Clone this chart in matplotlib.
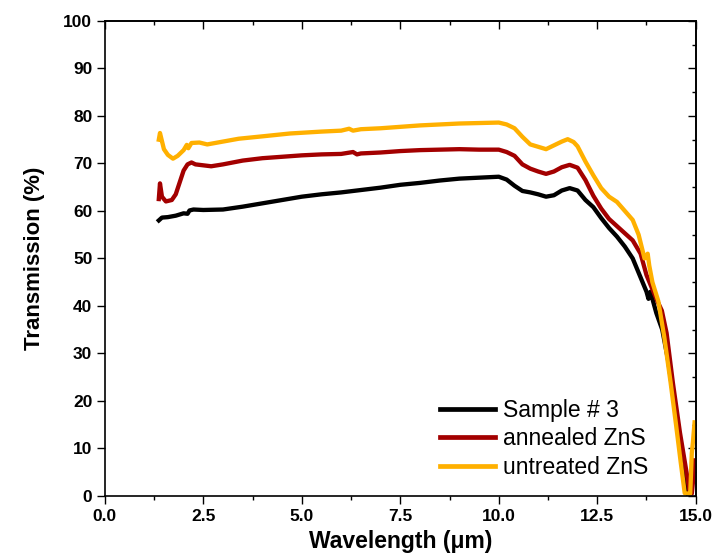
import matplotlib
matplotlib.use("Agg")
import matplotlib.pyplot as plt
from matplotlib.ticker import MultipleLocator

plt.rcParams['font.family'] = ['Liberation Sans', 'DejaVu Sans']

# ---- data ----
x_sample = [1.37, 1.45, 1.6, 1.8, 2.0, 2.1, 2.15, 2.25, 2.5, 3.0, 3.5, 4.0, 4.5, 5.0, 5.5, 6.0,
            6.5, 7.0, 7.5, 8.0, 8.5, 9.0, 9.5, 10.0, 10.2, 10.4, 10.6, 10.8, 11.0, 11.2, 11.4,
            11.6, 11.8, 12.0, 12.2, 12.4, 12.6, 12.8, 13.0, 13.2, 13.4, 13.6, 13.75, 13.8,
            13.85, 13.9, 14.0, 14.15, 14.3, 14.5, 14.7, 14.8]
y_sample = [58.0, 58.6, 58.7, 59.0, 59.5, 59.4, 60.1, 60.3, 60.2, 60.3, 60.9, 61.6, 62.3, 63.0,
            63.5, 63.9, 64.4, 64.9, 65.5, 65.9, 66.4, 66.8, 67.0, 67.2, 66.6, 65.3, 64.2, 63.9,
            63.5, 63.0, 63.3, 64.3, 64.8, 64.3, 62.3, 60.8, 58.5, 56.4, 54.6, 52.5, 50.0, 46.0,
            43.0, 41.5, 43.0, 41.5, 38.5, 35.0, 28.5, 17.0, 4.0, 0.5]

x_annealed = [1.37, 1.4, 1.45, 1.55, 1.7, 1.8, 1.9, 2.0, 2.1, 2.2, 2.3, 2.5, 2.7, 3.0, 3.5, 4.0,
              4.5, 5.0, 5.5, 6.0, 6.3, 6.4, 6.5, 7.0, 7.5, 8.0, 8.5, 9.0, 9.5, 10.0, 10.2, 10.4,
              10.6, 10.8, 11.0, 11.2, 11.4, 11.6, 11.8, 12.0, 12.2, 12.4, 12.6, 12.8, 13.0, 13.2,
              13.4, 13.6, 13.75, 13.9, 14.0, 14.14, 14.26, 14.42, 14.6, 14.77, 14.85, 14.9,
              14.93, 14.97]
y_annealed = [62.5, 65.8, 63.0, 62.0, 62.3, 63.5, 66.0, 68.5, 69.8, 70.2, 69.8, 69.6, 69.4, 69.8,
              70.6, 71.1, 71.4, 71.7, 71.9, 72.0, 72.4, 71.9, 72.1, 72.3, 72.6, 72.8, 72.9, 73.0,
              72.9, 72.9, 72.4, 71.6, 69.8, 68.9, 68.3, 67.8, 68.3, 69.2, 69.7, 69.1, 66.5, 63.2,
              60.5, 58.3, 56.8, 55.3, 53.8, 51.0, 46.5, 43.5, 41.5, 39.0, 34.3, 23.8, 13.3, 4.8,
              0.6, 0.5, 3.0, 7.5]

x_untreated = [1.37, 1.4, 1.5, 1.6, 1.73, 1.85, 2.0, 2.08, 2.12, 2.2, 2.4, 2.6, 3.0, 3.4, 4.0,
               4.7, 5.5, 6.0, 6.2, 6.3, 6.5, 7.0, 7.5, 8.0, 8.5, 9.0, 9.5, 10.0, 10.2, 10.4,
               10.6, 10.8, 11.0, 11.2, 11.4, 11.6, 11.75, 11.9, 12.0, 12.2, 12.4, 12.6, 12.8,
               13.0, 13.2, 13.4, 13.55, 13.7, 13.78, 13.82, 13.9, 14.05, 14.2, 14.36, 14.5,
               14.62, 14.72, 14.8, 14.86, 14.9, 14.93, 14.97]
y_untreated = [75.0, 76.4, 73.0, 71.8, 71.0, 71.6, 72.8, 73.9, 73.2, 74.3, 74.4, 74.0, 74.6,
               75.2, 75.7, 76.3, 76.7, 76.9, 77.3, 76.9, 77.2, 77.4, 77.7, 78.0, 78.2, 78.4,
               78.5, 78.6, 78.2, 77.4, 75.6, 74.0, 73.5, 73.0, 73.8, 74.6, 75.1, 74.5, 73.6,
               70.4, 67.5, 64.8, 63.0, 61.9, 60.0, 58.1, 55.0, 50.0, 51.0, 48.5, 45.0, 41.0,
               33.5, 24.0, 15.0, 7.0, 0.6, 0.5, 0.5, 9.0, 11.5, 15.5]

labels = ["Sample # 3", "annealed ZnS", "untreated ZnS"]
colors = ["#000000", "#a30000", "#ffb000"]

xticks = [0.0, 2.5, 5.0, 7.5, 10.0, 12.5, 15.0]
yticks = [0, 10, 20, 30, 40, 50, 60, 70, 80, 90, 100]

# ---- figure ----
fig = plt.figure(figsize=(7.18, 5.57), dpi=100)
ax = fig.add_axes([0.146, 0.1095, 0.823, 0.853])

for xs, ys, lab, c in zip([x_sample, x_annealed, x_untreated],
                          [y_sample, y_annealed, y_untreated], labels, colors):
    ax.plot(xs, ys, color=c, lw=3.1, label=lab, solid_joinstyle='round')

ax.set_xlim(0, 15)
ax.set_ylim(0, 100)
ax.set_xticks(xticks)
ax.set_xticklabels([f"{v:.1f}" for v in xticks])
ax.set_yticks(yticks)
ax.set_yticklabels([str(v) for v in yticks])
ax.xaxis.set_minor_locator(MultipleLocator(1.25))

for sp in ax.spines.values():
    sp.set_linewidth(1.2)

ax.tick_params(axis='x', which='major', direction='out', length=6, width=1.0,
               labelsize=12.5, pad=3, top=False)
ax.tick_params(axis='x', which='minor', direction='out', length=3, width=1.0, top=False)
ax.tick_params(axis='y', which='major', direction='out', length=6, width=1.0,
               labelsize=12.5, pad=3, right=False)
for lbl in ax.get_xticklabels() + ax.get_yticklabels():
    lbl.set_fontweight('bold')

# top and right axes with inward ticks
secx = ax.secondary_xaxis('top')
secx.set_xticks(xticks)
secx.xaxis.set_minor_locator(MultipleLocator(1.25))
secx.tick_params(which='major', direction='in', length=6, width=1.0, labeltop=False)
secx.tick_params(which='minor', direction='in', length=3, width=1.0)
secx.spines['top'].set_linewidth(1.2)

secy = ax.secondary_yaxis('right')
secy.set_yticks(yticks)
secy.yaxis.set_minor_locator(MultipleLocator(5))
secy.tick_params(which='major', direction='in', length=6, width=1.0, labelright=False)
secy.tick_params(which='minor', direction='in', length=3, width=1.0)
secy.spines['right'].set_linewidth(1.2)

ax.set_xlabel("Wavelength (\u03bcm)", fontsize=16.5, fontweight='bold', labelpad=5)
ax.set_ylabel("Transmission (%)", fontsize=16, fontweight='bold', labelpad=13)

leg = ax.legend(loc='upper left', bbox_to_anchor=(0.567, 0.205), frameon=False,
                fontsize=16.5, handlelength=2.4, handletextpad=0.35, labelspacing=0.24,
                borderpad=0, borderaxespad=0)
for h in leg.get_lines():
    h.set_linewidth(3.4)

fig.savefig("out.png", dpi=100)
